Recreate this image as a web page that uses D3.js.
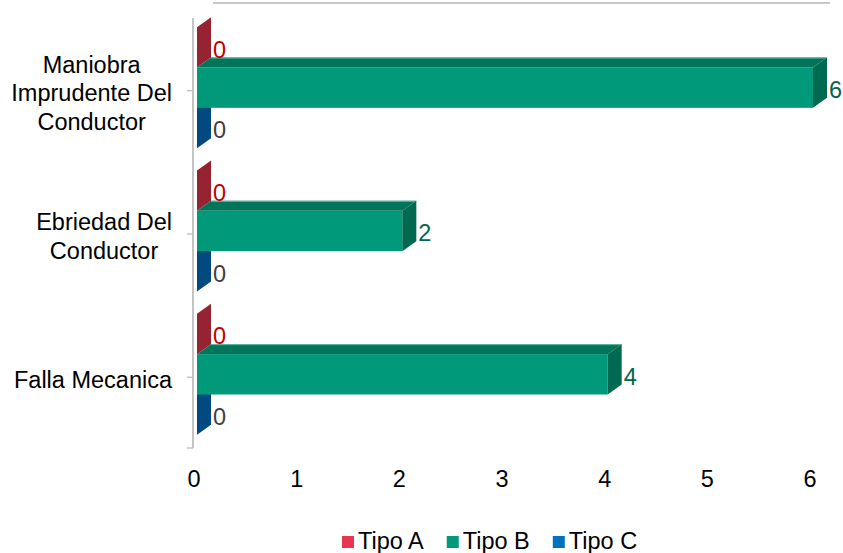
<!DOCTYPE html>
<html>
<head>
<meta charset="utf-8">
<script src="https://cdn.jsdelivr.net/npm/d3@7/dist/d3.min.js"></script>
<style>
  html, body { margin: 0; padding: 0; background: #fff; }
  svg { display: block; font-family: Arial, "Liberation Sans", sans-serif; }
</style>
</head>
<body>
<svg id="chart" width="843" height="553"></svg>
<script>
const categories = [
  ["Maniobra", "Imprudente Del", "Conductor"],
  ["Ebriedad Del", "Conductor"],
  ["Falla Mecanica"]
];
const categoryKeys = ["Maniobra Imprudente Del Conductor", "Ebriedad Del Conductor", "Falla Mecanica"];
const seriesNames = ["Tipo A", "Tipo B", "Tipo C"];
const tipoA = [0, 0, 0];
const tipoB = [6, 2, 4];
const tipoC = [0, 0, 0];
const xTicks = [0, 1, 2, 3, 4, 5, 6];

const seriesValues = [tipoA, tipoB, tipoC];
const legendColors = ["#e8364f", "#00997a", "#0070c0"];
const frontColors = ["#c02a3e", "#00997a", "#005a9e"];
const topColors = ["#a3283a", "#00755a", "#004a80"];
const sideColors = ["#962331", "#006a50", "#004a80"];
const labelColors = ["#c00000", "#006650", "#404040"];

const svg = d3.select("#chart");
const FS = 23.5;
const dx = 14, dy = -10;

const x = d3.scaleLinear().domain([0, 6]).range([197, 813]);
const y0 = d3.scaleBand().domain(categoryKeys).range([18, 448]);
const groupH = 121;
const y1 = d3.scaleBand().domain(seriesNames).range([0, groupH]);
const groupOff = (y0.bandwidth() - groupH) / 2 - 2;

// back wall top line
svg.append("line")
  .attr("x1", x(0) + 16).attr("x2", x(6) + 17)
  .attr("y1", 3).attr("y2", 3)
  .attr("stroke", "#c8c8c8").attr("stroke-width", 2);

// left wall / category axis
svg.append("line")
  .attr("x1", 193).attr("x2", 193)
  .attr("y1", 18).attr("y2", 448)
  .attr("stroke", "#c4c4c4").attr("stroke-width", 2);
const tickYs = categoryKeys.map(k => y0(k) + y0.bandwidth() / 2 + 1).concat([448]);
svg.selectAll(".ctick").data(tickYs).enter().append("line")
  .attr("x1", 187).attr("x2", 193)
  .attr("y1", d => d).attr("y2", d => d)
  .attr("stroke", "#c4c4c4").attr("stroke-width", 1.5);

// bars
const drawOrder = [0, 2, 1];
categoryKeys.forEach((cat, ci) => {
  drawOrder.forEach(si => {
    const v = seriesValues[si][ci];
    const yb = y0(cat) + groupOff + y1(seriesNames[si]);
    const h = y1.bandwidth();
    const xa = x(0), xb = x(v);
    const g = svg.append("g");
    if (v > 0) {
      g.append("rect").attr("x", xa).attr("y", yb).attr("width", xb - xa).attr("height", h)
        .attr("fill", frontColors[si]);
      g.append("polygon")
        .attr("points", [[xa, yb], [xa + dx, yb + dy], [xb + dx, yb + dy], [xb, yb]].map(p => p.join(",")).join(" "))
        .attr("fill", topColors[si]);
      g.append("line").attr("x1", xa + dx).attr("x2", xb + dx).attr("y1", yb + dy + 0.5).attr("y2", yb + dy + 0.5)
        .attr("stroke", "#5fb8a0").attr("stroke-width", 1);
    }
    g.append("polygon")
      .attr("points", [[xb, yb], [xb + dx, yb + dy], [xb + dx, yb + h + dy], [xb, yb + h]].map(p => p.join(",")).join(" "))
      .attr("fill", sideColors[si]);
  });
});

// value labels
categoryKeys.forEach((cat, ci) => {
  seriesNames.forEach((s, si) => {
    const v = seriesValues[si][ci];
    const yb = y0(cat) + groupOff + y1(s);
    const h = y1.bandwidth();
    svg.append("text")
      .attr("x", x(v) + dx + 2)
      .attr("y", yb + h / 2 + 2 + FS * 0.36)
      .attr("font-size", FS)
      .attr("fill", labelColors[si])
      .text(v);
  });
});

// x tick labels
svg.selectAll(".xt").data(xTicks).enter().append("text")
  .attr("x", d => x(d) - 3)
  .attr("y", 487)
  .attr("text-anchor", "middle")
  .attr("font-size", FS)
  .attr("fill", "#000")
  .text(d => d);

// category labels
const lineH = 28.5;
categoryKeys.forEach((cat, ci) => {
  const lines = categories[ci];
  const g = svg.append("g");
  const texts = lines.map(l => g.append("text").attr("font-size", FS).attr("fill", "#000").attr("text-anchor", "middle").text(l));
  const maxW = d3.max(texts, t => t.node().getComputedTextLength());
  const cx = 172 - maxW / 2;
  const cy = y0(cat) + y0.bandwidth() / 2 + 3;
  const n = lines.length;
  texts.forEach((t, i) => {
    t.attr("x", cx).attr("y", cy + (i - (n - 1) / 2) * lineH + FS * 0.36);
  });
});

// legend
const lg = svg.append("g");
let lx = 342;
seriesNames.forEach((s, i) => {
  lg.append("rect").attr("x", lx).attr("y", 536).attr("width", 12).attr("height", 12).attr("fill", legendColors[i]);
  const t = lg.append("text").attr("x", lx + 16).attr("y", 549).attr("font-size", FS).attr("fill", "#000").text(s);
  lx += 16 + t.node().getComputedTextLength() + 23;
});
</script>
</body>
</html>
